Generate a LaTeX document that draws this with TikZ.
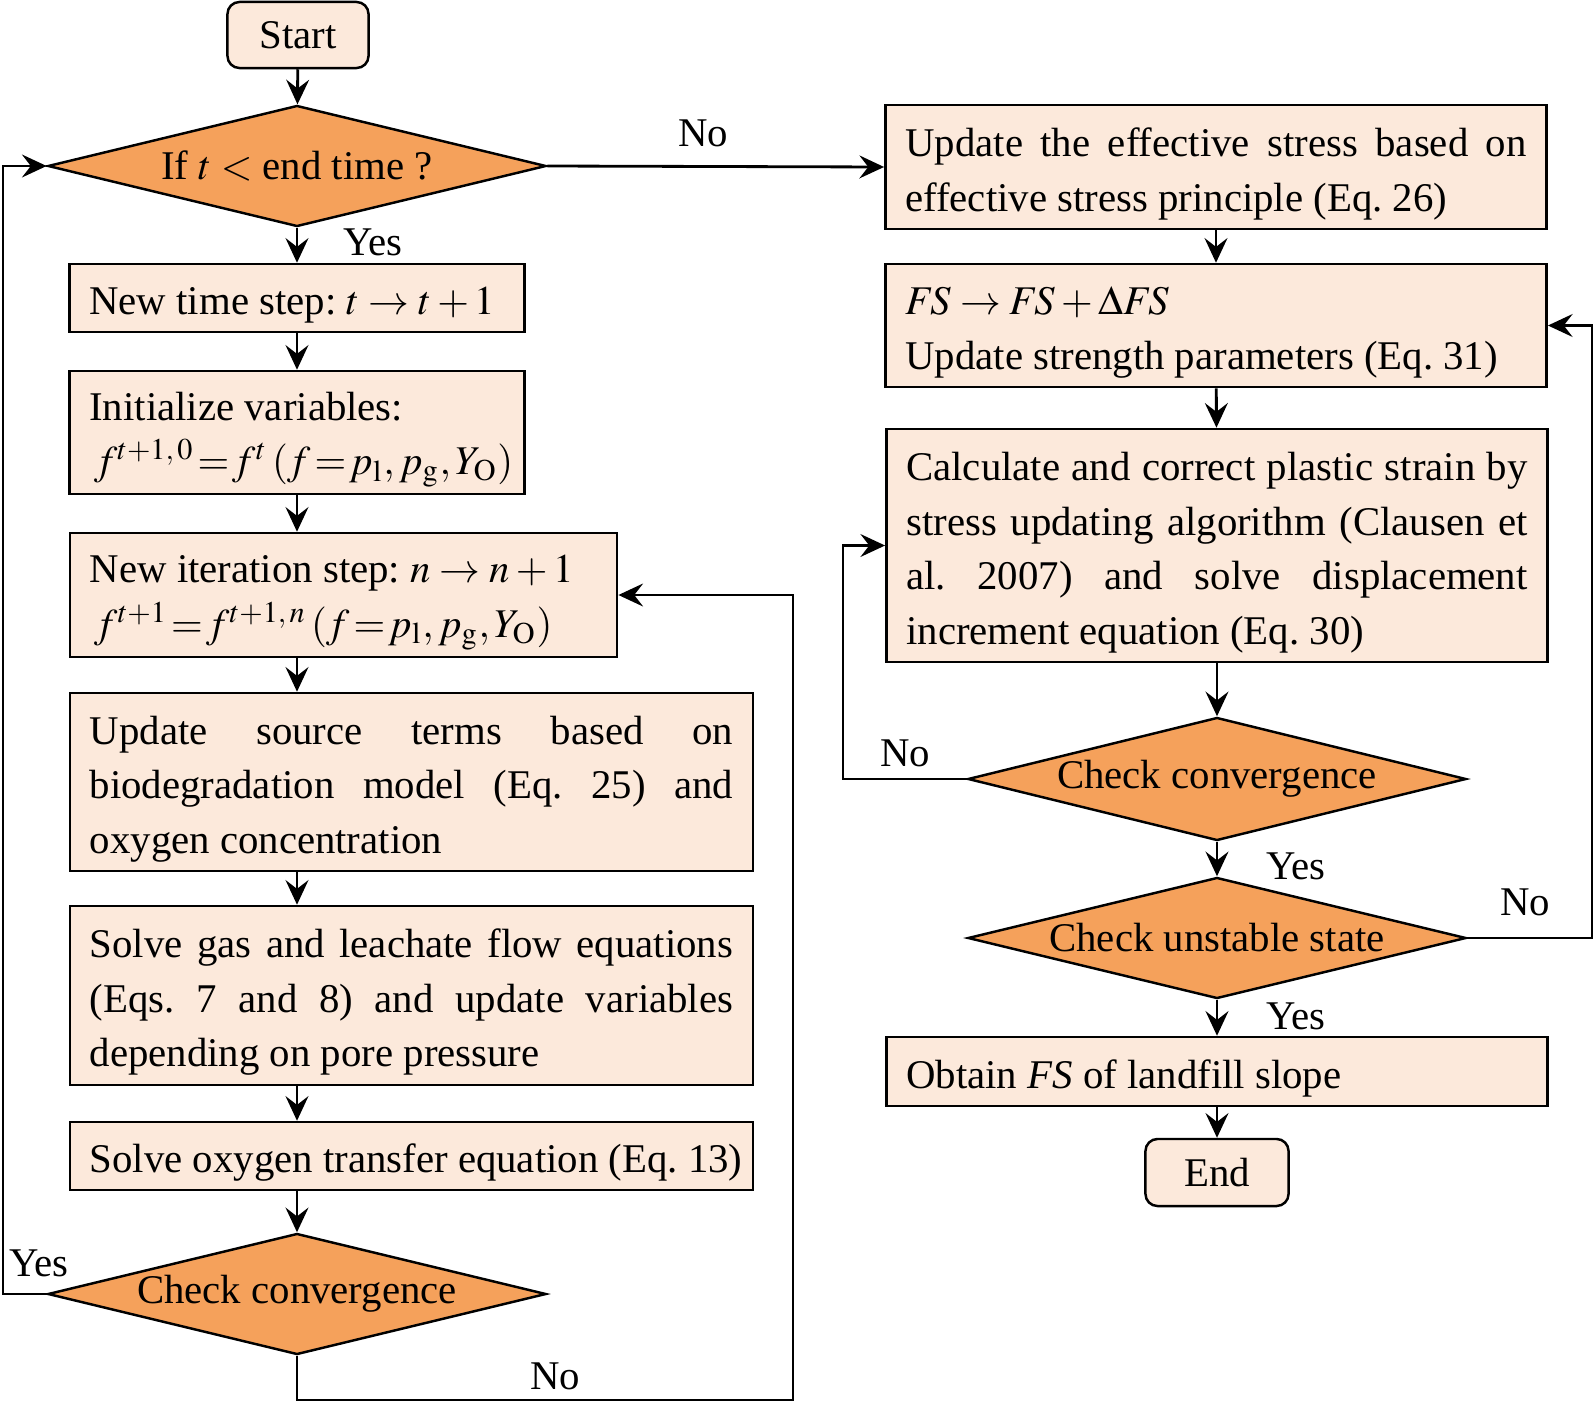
\documentclass[tikz,border=0pt]{standalone}
\usepackage{mathptmx}
\usepackage{fontspec}
\setmainfont{Liberation Serif}
\usetikzlibrary{shapes.geometric,arrows.meta}
\definecolor{boxfill}{HTML}{FCE9DB}
\definecolor{decfill}{HTML}{F5A15B}
\hyphenpenalty=10000
\exhyphenpenalty=10000
\newcommand{\tight}[1]{\mbox{$\thickmuskip=1.5mu #1$}}

\begin{document}
\begin{tikzpicture}
[x=0.01cm,y=-0.01cm,font=\fontsize{11.6}{15.5}\selectfont\frenchspacing,
box/.style={draw,fill=boxfill,line width=0.7pt,inner xsep=0.2cm,inner ysep=0pt,align=justify,execute at begin node={\rule{0pt}{12pt}}},
term/.style={draw,fill=boxfill,line width=0.7pt,rounded corners=0.12cm,minimum width=1.41cm,minimum height=0.66cm},
decision/.style={diamond,draw,fill=decfill,line width=0.7pt,inner sep=0pt,shape aspect=4.1,minimum width=4.98cm,minimum height=1.21cm},
arrow/.style={line width=0.8pt,-{Stealth[length=7pt,width=6.5pt,inset=2.5pt]}},
tag/.style={inner sep=0pt}]
\useasboundingbox (0,0) rectangle (1594,1403);
\node (start) at (298,35) [term] {Start};
\node (d1) at (297,166) [decision] {If $t<$ end time ?};
\node (step) at (297,298) [box,text width=4.15cm,minimum height=0.68cm,align=flush left] {New time step: $t\rightarrow t+1$};
\node (init) at (297,432.5) [box,text width=4.15cm,minimum height=1.23cm,align=flush left] {Initialize variables:\\ \tight{\,f^{t+1,\,0}=f^{t}\,(f=p_{\mathrm{l}},p_{\mathrm{g}},Y_{\mathrm{O}})}};
\node (iter) at (343.5,595) [box,text width=5.07cm,minimum height=1.24cm,align=flush left] {New iteration step: $n\rightarrow n+1$\\ \tight{\,f^{t+1}=f^{t+1,\,n}\,(f=p_{\mathrm{l}},p_{\mathrm{g}},Y_{\mathrm{O}})}};
\node (src) at (411.5,782) [box,text width=6.43cm,minimum height=1.78cm] {Update source terms based on biodegradation model (Eq. 25) and oxygen concentration};
\node (gas) at (411.5,995.5) [box,text width=6.43cm,minimum height=1.79cm] {Solve gas and leachate flow equations (Eqs. 7 and 8) and update variables depending on pore pressure};
\node (oxy) at (411.5,1156) [box,text width=6.43cm,minimum height=0.68cm,align=flush left] {\mbox{Solve oxygen transfer equation (Eq. 13)}};
\node (d2) at (297,1294) [decision] {Check convergence};
\node (eff) at (1216,167) [box,text width=6.21cm,minimum height=1.24cm] {Update the effective stress based on effective stress principle (Eq. 26)};
\node (fs) at (1216,325.5) [box,text width=6.21cm,minimum height=1.23cm,align=flush left] {$\mathit{FS}\rightarrow\mathit{FS}+\Delta\mathit{FS}$\\ Update strength parameters (Eq. 31)};
\node (calc) at (1217,545.5) [box,text width=6.21cm,minimum height=2.33cm] {Calculate and correct plastic strain by\linebreak stress updating algorithm (Clausen et\linebreak al. 2007) and solve displacement\linebreak increment equation (Eq. 30)};
\node (d3) at (1217,779) [decision,minimum height=1.23cm] {Check convergence};
\node (d4) at (1217,938) [decision] {Check unstable state};
\node (obtain) at (1217,1071.5) [box,text width=6.21cm,minimum height=0.69cm,align=flush left] {Obtain \textit{FS} of landfill slope};
\node (stop) at (1217,1172.5) [term,minimum width=1.43cm,minimum height=0.67cm] {End};
\coordinate (lx) at (3,0);
\coordinate (bx) at (793,1400);
\coordinate (rx) at (843,0);
\coordinate (fx) at (1592,0);
\draw[arrow] (start) -- (d1);
\draw[arrow] (d1) -- (step);
\draw[arrow] (step) -- (init);
\draw[arrow] (init.south) -- (init.south |- iter.north);
\draw[arrow] (iter.south -| init) -- (src.north -| init);
\draw[arrow] (src.south -| init) -- (gas.north -| init);
\draw[arrow] (gas.south -| init) -- (oxy.north -| init);
\draw[arrow] (oxy.south -| init) -- (d2);
\draw[arrow] (d2.west) -- (d2.west -| lx) |- (d1.west);
\draw[arrow] (d2.south) |- (bx) |- (iter.east);
\draw[arrow] (d1.east) -- (eff.west);
\draw[arrow] (eff) -- (fs);
\draw[arrow] (fs) -- (calc);
\draw[arrow] (calc) -- (d3);
\draw[arrow] (d3) -- (d4);
\draw[arrow] (d4) -- (obtain);
\draw[arrow] (obtain) -- (stop);
\draw[arrow] (d3.west) -- (d3.west -| rx) |- (calc.west);
\draw[arrow] (d4.east) -- (d4.east -| fx) |- (fs.east);
\node (no1) at (703,133) [tag] {No};
\node (yes1) at (373,242) [tag] {Yes};
\node (yes2) at (39,1263) [tag] {Yes};
\node (no2) at (555,1376) [tag] {No};
\node (no3) at (905,753) [tag] {No};
\node (yes3) at (1296,866) [tag] {Yes};
\node (no4) at (1525,902) [tag] {No};
\node (yes4) at (1296,1016) [tag] {Yes};
\end{tikzpicture}
\end{document}
